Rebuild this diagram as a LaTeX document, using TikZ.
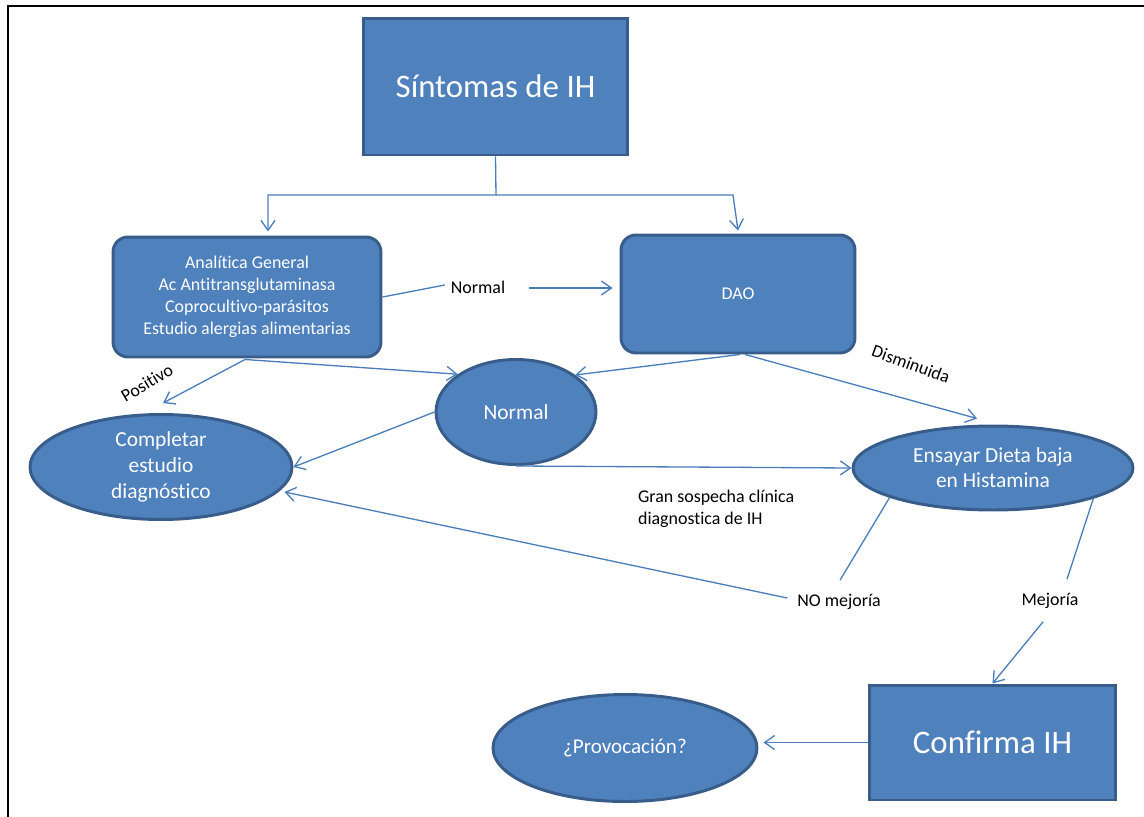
\documentclass[tikz,border=0pt]{standalone}
\usepackage{fontspec}
\setmainfont{Carlito}[Ligatures=NoCommon]
\usetikzlibrary{arrows.meta,shapes.geometric,calc}
\definecolor{boxfill}{HTML}{4F81BD}
\definecolor{boxline}{HTML}{385D8A}
\definecolor{linkcol}{HTML}{4A7EBB}

\begin{document}
\begin{tikzpicture}[x=0.02cm,y=-0.02cm,
  shapebase/.style={fill=boxfill,draw=boxline,line width=1.7pt,text=white,align=center,inner sep=0pt},
  sqbox/.style={shapebase,rectangle},
  rbox/.style={shapebase,rectangle,rounded corners=0.3cm},
  oval/.style={shapebase,ellipse},
  conn/.style={draw=linkcol,line width=0.75pt},
  arr/.style={conn,-{Straight Barb[length=2mm,width=2.8mm]}},
  lbl/.style={text=black,font=\fontsize{10.2}{12.5}\selectfont,inner sep=1pt}]

\useasboundingbox (0,0) rectangle (1144,816);

% page frame
\draw[line width=1.2pt] (8,830) -- (8,6) -- (1160,6);

% boxes and ovals
\node[sqbox,minimum width=5.30cm,minimum height=2.74cm,font=\fontsize{18.7}{22}\selectfont] (sint) at (495.5,86.5) {Síntomas de IH};
\node[rbox,minimum width=5.36cm,minimum height=2.40cm,font=\fontsize{10.2}{12.5}\selectfont] (ana) at (247,297)
  {Analítica General\\Ac Antitransglutaminasa\\Coprocultivo-parásitos\\Estudio alergias alimentarias};
\node[rbox,minimum width=4.68cm,minimum height=2.36cm,font=\fontsize{10.2}{12.5}\selectfont] (dao) at (738,294) {DAO};
\node[oval,minimum width=3.20cm,minimum height=2.10cm,font=\fontsize{12.2}{14.7}\selectfont] (nrm) at (516,412) {Normal};
\node[oval,minimum width=5.24cm,minimum height=2.10cm,font=\fontsize{12.2}{14.7}\selectfont] (comp) at (161,467) {Completar\\estudio\\diagnóstico};
\node[oval,minimum width=5.60cm,minimum height=1.68cm,font=\fontsize{12.2}{14.2}\selectfont] (ens) at (993,468) {Ensayar Dieta baja\\en Histamina};
\node[sqbox,minimum width=4.94cm,minimum height=2.30cm,font=\fontsize{18.7}{22}\selectfont] (conf) at (992.5,742.5) {Confirma IH};
\node[oval,minimum width=5.28cm,minimum height=2.14cm,font=\fontsize{12}{14}\selectfont] (prov) at (625,748) {¿Provocación?};

% labels
\node[lbl] (lnorm) at (478,287) {Normal};
\node[lbl,rotate=31] (lpos) at (147,383) {Positivo};
\node[lbl,rotate=-20] (ldis) at (911,364) {Disminuida};
\node[lbl,anchor=west,align=left] (lgran) at (636,509) {Gran sospecha clínica\\diagnostica de IH};
\node[lbl] (lno) at (839,602) {NO mejoría};
\node[lbl] (lmej) at (1050,601) {Mejoría};

% split below the symptoms box
\coordinate (jn) at (496,195);
\coordinate (jl) at (268,195);
\coordinate (jr) at (733,195);
\draw[conn] (sint.south) -- (jn);
\draw[arr] (jn) -- (jl) -- ([xshift=0.42cm,yshift=0.08cm]ana.north);
\draw[arr] (jn) -- (jr) -- ([yshift=0.06cm]dao.north);

% from the lab tests
\draw[conn] (ana.east) -- ($(lnorm.west)+(-4,-2)$);
\draw[arr] ($(lnorm.east)+(22,1)$) -- ($(lnorm.east -| dao.west)+(-7,1)$);
\draw[arr] ($(ana.south)+(-2,1)$) -- ($(comp.north)+(2,-10)$);
\draw[arr] ($(ana.south)+(-2,1)$) -- (nrm.147);

% from DAO
\draw[arr] ($(dao.south)+(2,0)$) -- (nrm.32);
\draw[arr] ($(dao.south)+(7,0)$) -- ($(ens.north)+(-16,-6)$);

% from the normal result
\draw[arr] (nrm.west) -- (comp.east);
\draw[arr] (nrm.south) -- (ens.west);

% outcomes of the diet
\draw[conn] (ens.196) -- ($(lno.north)+(1,-12)$);
\draw[arr] ($(lno.west)+(-8,-4)$) -- ($(comp.-12)+(6,0)$);
\draw[conn] (ens.-17) -- ($(lmej.north)+(17,-12)$);
\draw[arr] ($(lmej.south)+(-7,11)$) -- (conf.north);
\draw[arr] (conf.west) -- ($(conf.west -| prov.east)+(5,0)$);
\end{tikzpicture}
\end{document}
